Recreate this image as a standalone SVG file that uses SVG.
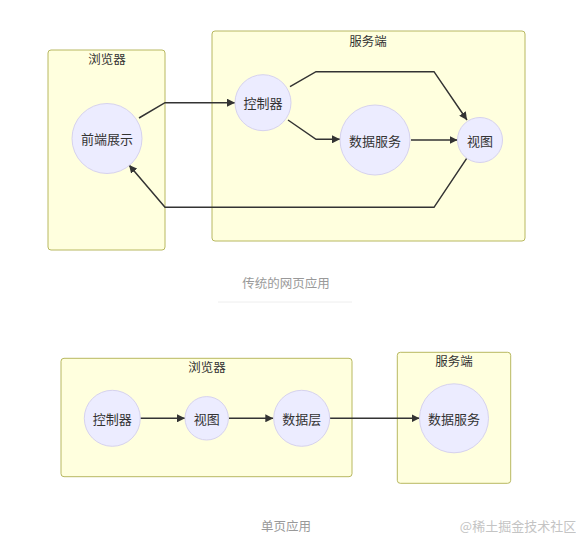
<svg xmlns="http://www.w3.org/2000/svg" width="576" height="542" viewBox="0 0 576 542">
<style>
  .cluster { fill: #ffffde; stroke: #b8b860; stroke-width: 1; }
  .node circle { fill: #ececff; stroke: #d6d2ee; stroke-width: 1; }
  text { font-family: "Noto Sans CJK SC", "Liberation Sans", sans-serif; }
  .lbl { font-size: 13px; fill: #333; text-anchor: middle; dominant-baseline: central; }
  .clbl { font-size: 12.5px; fill: #333; text-anchor: middle; dominant-baseline: central; }
  .edge { fill: none; stroke: #333; stroke-width: 1.5; }
  .cap { font-size: 12.5px; fill: #999; text-anchor: middle; dominant-baseline: central; }
</style>
<defs>
  <marker id="arrow" viewBox="0 0 10 10" refX="10" refY="5" markerWidth="8" markerHeight="8" markerUnits="userSpaceOnUse" orient="auto">
    <path d="M0,0 L10,5 L0,10 z" fill="#333"/>
  </marker>
</defs>
<rect width="576" height="542" fill="#ffffff"/>

<!-- Top diagram -->
<g id="top-browser">
  <rect class="cluster" x="48" y="50" width="117" height="200" rx="3"/>
  <text class="clbl" x="107" y="58">浏览器</text>
</g>
<g id="top-server">
  <rect class="cluster" x="212" y="31" width="313" height="210" rx="3"/>
  <text class="clbl" x="368" y="40">服务端</text>
</g>

<g id="connectors-top">
  <polyline class="edge" points="139,118 165,102.7 235,102.7" marker-end="url(#arrow)"/>
  <polyline class="edge" points="290,86.7 316,71.7 434,71.7 467,120" marker-end="url(#arrow)"/>
  <polyline class="edge" points="288,120 316,139.3 340,139.3" marker-end="url(#arrow)"/>
  <polyline class="edge" points="411,140 457.5,140" marker-end="url(#arrow)"/>
  <polyline class="edge" points="466.7,158.3 434,207.3 165,207.3 129,165" marker-end="url(#arrow)"/>
</g>

<g id="top-frontend" class="node">
  <circle cx="107" cy="138.5" r="35"/>
  <text class="lbl" x="107" y="138.5">前端展示</text>
</g>
<g id="top-controller" class="node">
  <circle cx="263" cy="102.7" r="28"/>
  <text class="lbl" x="263" y="102.7">控制器</text>
</g>
<g id="top-dataservice" class="node">
  <circle cx="375" cy="140" r="35"/>
  <text class="lbl" x="375" y="140">数据服务</text>
</g>
<g id="top-view" class="node">
  <circle cx="480" cy="140" r="22.5"/>
  <text class="lbl" x="480" y="140">视图</text>
</g>

<g id="caption-top">
  <text class="cap" x="286" y="282">传统的网页应用</text>
  <line x1="218" y1="302" x2="352" y2="302" stroke="#eeeeee" stroke-width="1"/>
</g>

<!-- Bottom diagram -->
<g id="bottom-browser">
  <rect class="cluster" x="61" y="358.3" width="291" height="118.4" rx="3"/>
  <text class="clbl" x="207" y="366.5">浏览器</text>
</g>
<g id="bottom-server">
  <rect class="cluster" x="397.3" y="352.3" width="113.4" height="131" rx="3"/>
  <text class="clbl" x="454" y="360.5">服务端</text>
</g>

<g id="connectors-bottom">
  <line class="edge" x1="140" y1="418.3" x2="185" y2="418.3" marker-end="url(#arrow)"/>
  <line class="edge" x1="229" y1="418.3" x2="273.3" y2="418.3" marker-end="url(#arrow)"/>
  <line class="edge" x1="329.7" y1="418.3" x2="419.5" y2="418.3" marker-end="url(#arrow)"/>
</g>

<g id="bottom-controller" class="node">
  <circle cx="112.3" cy="418.3" r="28"/>
  <text class="lbl" x="112.3" y="418.3">控制器</text>
</g>
<g id="bottom-view" class="node">
  <circle cx="206.7" cy="418.3" r="21.7"/>
  <text class="lbl" x="206.7" y="418.3">视图</text>
</g>
<g id="bottom-datalayer" class="node">
  <circle cx="301.7" cy="418.3" r="28"/>
  <text class="lbl" x="301.7" y="418.3">数据层</text>
</g>
<g id="bottom-dataservice" class="node">
  <circle cx="454" cy="418.3" r="34.5"/>
  <text class="lbl" x="454" y="418.3">数据服务</text>
</g>

<g id="caption-bottom">
  <text class="cap" x="286" y="525.5">单页应用</text>
</g>
<text x="518" y="525.5" font-size="13" fill="#c4c4c4" text-anchor="middle" dominant-baseline="central" font-family="Noto Sans CJK SC, sans-serif">@稀土掘金技术社区</text>
</svg>
